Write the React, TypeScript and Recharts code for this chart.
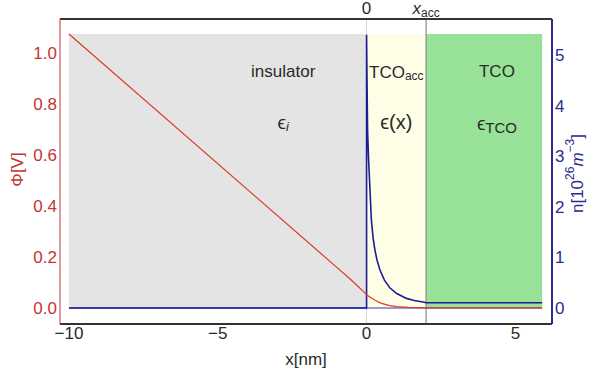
import {
  ComposedChart,
  Line,
  XAxis,
  YAxis,
  ReferenceArea,
  ReferenceLine,
  ReferenceDot,
} from "recharts";

// axis ticks
const xTicks = [-10, -5, 0, 5];
const topTicks = [0, 2]; // 0 and x_acc
const phiTicks = [0, 0.2, 0.4, 0.6, 0.8, 1.0];
const nTicks = [0, 1, 2, 3, 4, 5];

// region boundaries [nm] and top of the shaded band (in Phi units)
const xStart = -10;
const xZero = 0;
const xAcc = 2;
const xEnd = 5.9;
const bandTop = 1.073;

// potential Phi(x)
const phiX = [-10, -1, -0.6, -0.3, -0.1, 0, 0.15, 0.3, 0.5, 0.75, 1.0, 1.4, 2.0, 5.9];
const phiV = [1.073, 0.159, 0.118, 0.086, 0.064, 0.052, 0.04, 0.029, 0.018, 0.01, 0.005, 0.002, 0, 0];

// carrier density n(x)
const nX = [-10, 0, 0, 0.015, 0.034, 0.07, 0.11, 0.16, 0.22, 0.28, 0.35, 0.45, 0.6, 0.78, 1.0, 1.34, 1.6, 1.9, 2.0, 5.9];
const nV = [0, 0, 5.4, 4.5, 3.5, 2.9, 2.4, 1.75, 1.38, 1.15, 0.95, 0.75, 0.55, 0.4, 0.29, 0.19, 0.15, 0.12, 0.105, 0.105];

// n = 0 baseline
const baseX = [-10, 5.9];
const baseV = [0, 0];

const phiData = phiX.map((x, i) => ({ x, phi: phiV[i] }));
const nData = nX.map((x, i) => ({ x, n: nV[i] }));
const baseData = baseX.map((x, i) => ({ x, n: baseV[i] }));

const RED = "#c43434";
const BLUE = "#2b2b8e";
const TXT = "#2a2a2a";

const TopTick = (props: any) => {
  const { x, y, payload } = props;
  if (payload.value === 0) {
    return (
      <text x={x} y={y - 5} textAnchor="middle" fontSize={17} fill={TXT}>
        0
      </text>
    );
  }
  return (
    <text x={x} y={y - 5} textAnchor="middle" fill={TXT}>
      <tspan fontStyle="italic" fontSize={17}>x</tspan>
      <tspan fontSize={12} dy={3}>acc</tspan>
    </text>
  );
};

const regionText = (kind: string) => (p: any) => {
  const { cx, cy } = p;
  switch (kind) {
    case "insulator":
      return <text x={cx} y={cy} textAnchor="middle" dominantBaseline="central" fontSize={17} fill={TXT}>insulator</text>;
    case "epsI":
      return (
        <text x={cx} y={cy} textAnchor="middle" dominantBaseline="central" fill={TXT}>
          <tspan fontSize={19}>ϵ</tspan>
          <tspan fontSize={13} fontStyle="italic" dy={4}>i</tspan>
        </text>
      );
    case "tcoAcc":
      return (
        <text x={cx} y={cy} textAnchor="middle" dominantBaseline="central" fill={TXT}>
          <tspan fontSize={17}>TCO</tspan>
          <tspan fontSize={12} dy={4}>acc</tspan>
        </text>
      );
    case "epsX":
      return <text x={cx} y={cy} textAnchor="middle" dominantBaseline="central" fontSize={20} fill={TXT}>ϵ(x)</text>;
    case "tco":
      return <text x={cx} y={cy} textAnchor="middle" dominantBaseline="central" fontSize={17} fill={TXT}>TCO</text>;
    default:
      return (
        <text x={cx} y={cy} textAnchor="middle" dominantBaseline="central" fill={TXT}>
          <tspan fontSize={19}>ϵ</tspan>
          <tspan fontSize={15} dy={4}>TCO</tspan>
        </text>
      );
  }
};

export default function App() {
  return (
    <div style={{ position: "absolute", left: 0, top: 0 }}>
      <ComposedChart
        width={596}
        height={372}
        margin={{ top: 0, right: 0, bottom: 0, left: 0 }}
        style={{ fontFamily: "'Liberation Sans', Arial, sans-serif" }}
      >
        <XAxis
          xAxisId="bottom"
          type="number"
          dataKey="x"
          domain={[-10.3, 6.23]}
          allowDataOverflow
          ticks={xTicks}
          tickFormatter={(v: number) => (v < 0 ? "\u2212" + Math.abs(v) : String(v))}
          tick={{ fill: TXT, fontSize: 17 }}
          tickLine={false}
          tickSize={0}
          tickMargin={3}
          axisLine={{ stroke: "#333", strokeWidth: 2 }}
          height={48}
          label={{
            content: (p: any) => {
              const vb = p.viewBox;
              return (
                <text x={vb.x + vb.width / 2} y={vb.y + 41} textAnchor="middle" fontSize={17} fill={TXT}>
                  x[nm]
                </text>
              );
            },
          }}
        />
        <XAxis
          xAxisId="top"
          orientation="top"
          type="number"
          dataKey="x"
          domain={[-10.3, 6.23]}
          allowDataOverflow
          ticks={topTicks}
          tick={<TopTick />}
          tickLine={false}
          tickSize={0}
          tickMargin={0}
          axisLine={{ stroke: "#333", strokeWidth: 2 }}
          height={19}
        />
        <YAxis
          yAxisId="phi"
          orientation="left"
          type="number"
          domain={[-0.063, 1.132]}
          allowDataOverflow
          ticks={phiTicks}
          tickFormatter={(v: number) => v.toFixed(1)}
          tick={{ fill: RED, fontSize: 17 }}
          tickLine={false}
          tickSize={0}
          tickMargin={3}
          axisLine={{ stroke: RED, strokeWidth: 1 }}
          width={60}
          label={{
            content: (p: any) => {
              const vb = p.viewBox;
              const cx = vb.x + 17;
              const cy = vb.y + vb.height / 2 - 2;
              return (
                <text x={cx} y={cy} transform={`rotate(-90, ${cx}, ${cy})`} textAnchor="middle" dominantBaseline="central" fontSize={17} fill={RED}>
                  Φ[V]
                </text>
              );
            },
          }}
        />
        <YAxis
          yAxisId="n"
          orientation="right"
          type="number"
          domain={[-0.316, 5.711]}
          allowDataOverflow
          ticks={nTicks}
          tick={{ fill: BLUE, fontSize: 17 }}
          tickLine={false}
          tickSize={0}
          tickMargin={3}
          axisLine={{ stroke: BLUE, strokeWidth: 2 }}
          width={44}
          label={{
            content: (p: any) => {
              const vb = p.viewBox;
              const cx = vb.x + 25;
              const cy = vb.y + vb.height / 2 + 2;
              return (
                <text x={cx} y={cy} transform={`rotate(-90, ${cx}, ${cy})`} textAnchor="middle" dominantBaseline="central" fill={BLUE} fontSize={17}>
                  <tspan>n[10</tspan>
                  <tspan fontSize={12} dy={-7}>26</tspan>
                  <tspan fontStyle="italic" dy={7}>m</tspan>
                  <tspan fontSize={12} dy={-7}>−3</tspan>
                  <tspan dy={7}>]</tspan>
                </text>
              );
            },
          }}
        />

        <ReferenceArea xAxisId="bottom" yAxisId="phi" x1={xStart} x2={xZero} y1={0} y2={bandTop} fill="#e4e4e4" fillOpacity={1} stroke="none" />
        <ReferenceArea xAxisId="bottom" yAxisId="phi" x1={xZero} x2={xAcc} y1={0} y2={bandTop} fill="#fefee7" fillOpacity={1} stroke="none" />
        <ReferenceArea xAxisId="bottom" yAxisId="phi" x1={xAcc} x2={xEnd} y1={0} y2={bandTop} fill="#98e298" fillOpacity={1} stroke="none" />

        <ReferenceLine xAxisId="bottom" yAxisId="phi" x={xZero} stroke="#d4d4d4" strokeWidth={1} />
        <ReferenceLine xAxisId="bottom" yAxisId="phi" x={xAcc} stroke="#8a8a8a" strokeWidth={1.2} />

        <Line xAxisId="bottom" yAxisId="n" data={baseData} dataKey="n" type="linear" stroke="#3434b4" strokeWidth={1} dot={false} isAnimationActive={false} />
        <Line xAxisId="bottom" yAxisId="n" data={nData} dataKey="n" type="linear" stroke="#1c1c96" strokeWidth={1.6} dot={false} isAnimationActive={false} />
        <Line xAxisId="bottom" yAxisId="phi" data={phiData} dataKey="phi" type="linear" stroke="#dc3a2a" strokeWidth={1.2} dot={false} isAnimationActive={false} />

        <ReferenceDot xAxisId="bottom" yAxisId="phi" x={-2.8} y={0.925} r={0} shape={regionText("insulator")} />
        <ReferenceDot xAxisId="bottom" yAxisId="phi" x={-2.8} y={0.727} r={0} shape={regionText("epsI")} />
        <ReferenceDot xAxisId="bottom" yAxisId="phi" x={1.0} y={0.925} r={0} shape={regionText("tcoAcc")} />
        <ReferenceDot xAxisId="bottom" yAxisId="phi" x={1.0} y={0.73} r={0} shape={regionText("epsX")} />
        <ReferenceDot xAxisId="bottom" yAxisId="phi" x={4.38} y={0.925} r={0} shape={regionText("tco")} />
        <ReferenceDot xAxisId="bottom" yAxisId="phi" x={4.38} y={0.725} r={0} shape={regionText("epsTco")} />
      </ComposedChart>
    </div>
  );
}
